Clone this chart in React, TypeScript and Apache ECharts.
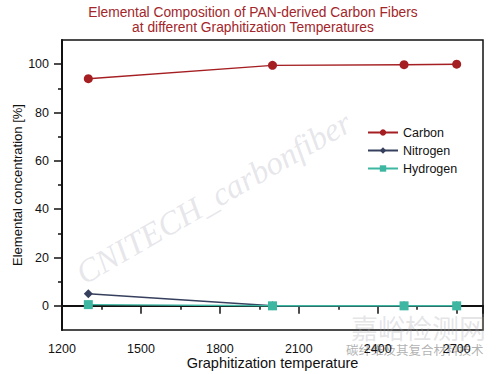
import React, { useEffect, useRef } from "react";
import * as echarts from "echarts";

const temperatures = [1300, 2000, 2500, 2700];
const carbon = [94, 99.5, 99.8, 100];
const nitrogen = [5, 0, 0, 0];
const hydrogen = [0.5, 0, 0, 0];
const xTicks = [1200, 1500, 1800, 2100, 2400, 2700];
const yTicks = [0, 20, 40, 60, 80, 100];
const yMinorTicks = [10, 30, 50, 70, 90];

export default function App() {
  const ref = useRef<HTMLDivElement>(null);
  useEffect(() => {
    document.body.style.margin = "0";
    const chart = echarts.init(ref.current!, null, { renderer: "svg" });
    const pair = (vals: number[]) => temperatures.map((t, i) => [t, vals[i]]);
    const font = "Liberation Sans, Arial";
    chart.setOption({
      animation: false,
      backgroundColor: "#fff",
      title: {
        text: "Elemental Composition of PAN-derived Carbon Fibers\nat different Graphitization Temperatures",
        left: 248,
        textAlign: "center",
        top: 0,
        textStyle: {
          fontFamily: font,
          fontSize: 13.8,
          fontWeight: "normal",
          color: "#a3262a",
          lineHeight: 15,
        },
      },
      grid: {
        left: 62,
        right: 17,
        top: 40,
        bottom: 44,
        containLabel: false,
        outerBoundsMode: "none",
        show: true,
        borderColor: "#111",
        borderWidth: 1.5,
      },
      legend: {
        orient: "vertical",
        left: 362,
        top: 121,
        itemWidth: 30,
        itemHeight: 8,
        itemGap: 5,
        textStyle: { fontFamily: font, fontSize: 12.5, color: "#111" },
        data: ["Carbon", "Nitrogen", "Hydrogen"],
      },
      xAxis: {
        type: "value",
        min: 1200,
        max: 2800,
        interval: 300,
        name: "Graphitization temperature",
        nameLocation: "middle",
        nameGap: 25,
        nameMoveOverlap: false,
        nameTextStyle: { fontFamily: font, fontSize: 14.5, color: "#111" },
        axisLine: { show: true, lineStyle: { color: "#111", width: 2 } },
        axisTick: { show: true, length: 8, lineStyle: { color: "#111", width: 1.5 } },
        minorTick: { show: true, splitNumber: 2, length: 4, lineStyle: { color: "#111", width: 1.5 } },
        splitLine: { show: false },
        axisLabel: {
          fontFamily: font,
          fontSize: 12.5,
          color: "#111",
          margin: 12,
          formatter: (v: number) => (xTicks.includes(v) ? String(v) : ""),
        },
      },
      yAxis: [
        {
          type: "value",
          min: -10,
          max: 110,
          name: "Elemental concentration [%]",
          nameLocation: "middle",
          nameGap: 38,
          nameMoveOverlap: false,
          nameTextStyle: { fontFamily: font, fontSize: 13, color: "#111" },
          axisLine: { show: true, lineStyle: { color: "#111", width: 2 } },
          axisTick: { show: true, length: 8, customValues: yTicks, lineStyle: { color: "#111", width: 1.5 } },
          splitLine: { show: false },
          axisLabel: {
            fontFamily: font,
            fontSize: 12.5,
            color: "#111",
            margin: 13,
            customValues: yTicks,
          },
        },
        {
          type: "value",
          position: "left",
          min: -10,
          max: 110,
          axisLine: { show: false },
          axisTick: { show: true, length: 4, customValues: yMinorTicks, lineStyle: { color: "#111", width: 1.5 } },
          splitLine: { show: false },
          axisLabel: { show: false },
        },
      ],
      graphic: [
        {
          type: "text",
          x: 87,
          y: 290,
          rotation: (30 * Math.PI) / 180,
          silent: true,
          z: 0,
          style: {
            text: "CNITECH_carbonfiber",
            fontFamily: "Liberation Serif, serif",
            fontStyle: "italic",
            fontSize: 33,
            textVerticalAlign: "bottom",
            fill: "rgba(170,172,185,0.3)",
          },
        },
        {
          type: "text",
          x: 351,
          y: 314,
          silent: true,
          style: {
            text: "嘉峪检测网",
            fontFamily: "Noto Sans CJK SC",
            fontSize: 27,
            fill: "rgba(165,165,170,0.3)",
          },
        },
        {
          type: "text",
          x: 346,
          y: 343,
          silent: true,
          style: {
            text: "碳纤维及其复合材料技术",
            fontFamily: "Noto Sans CJK SC",
            fontSize: 12.5,
            fill: "rgba(110,110,110,0.55)",
          },
        },
      ],
      series: [
        {
          name: "Carbon",
          type: "line",
          data: pair(carbon),
          symbol: "circle",
          symbolSize: 9,
          color: "#a51f22",
          lineStyle: { width: 1.5, color: "#a51f22" },
          z: 3,
        },
        {
          name: "Nitrogen",
          type: "line",
          data: pair(nitrogen),
          symbol: "diamond",
          symbolSize: 9,
          color: "#36405e",
          lineStyle: { width: 1.5, color: "#36405e" },
          z: 2,
        },
        {
          name: "Hydrogen",
          type: "line",
          data: pair(hydrogen),
          symbol: "rect",
          symbolSize: 9,
          color: "#3db6a2",
          lineStyle: { width: 1.5, color: "#3db6a2" },
          z: 4,
        },
      ],
    });
    return () => chart.dispose();
  }, []);
  return <div ref={ref} style={{ width: 500, height: 374 }} />;
}
